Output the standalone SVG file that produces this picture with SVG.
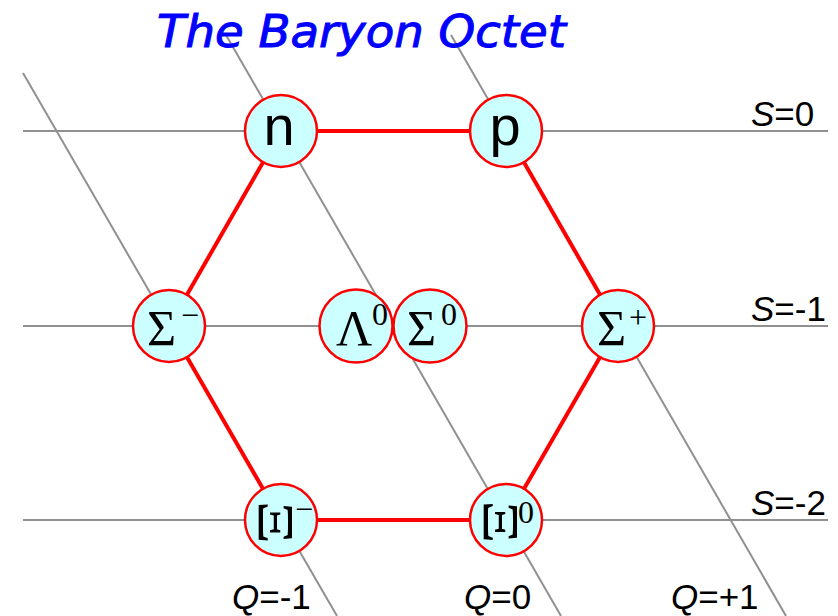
<svg xmlns="http://www.w3.org/2000/svg" width="838" height="616" viewBox="0 0 838 616">
<style>
.grid{stroke:#909090;stroke-width:2;fill:none}
.edge{stroke:#ff0000;stroke-width:4;fill:none}
.node circle{fill:#ccffff;stroke:#ff0000;stroke-width:2.5}
.lat{font-family:"Liberation Sans",Arial,sans-serif;font-size:56px;fill:#000;text-anchor:middle}
.gr{font-family:"Liberation Serif","Times New Roman",serif;font-size:50px;fill:#000}
.xi{font-family:"Liberation Serif","Times New Roman",serif;font-size:50px;fill:#000;text-anchor:middle;dominant-baseline:central}
.sup{font-family:"Liberation Serif","Times New Roman",serif;font-size:32px;fill:#000}
.lbl{font-family:"Liberation Sans",Arial,sans-serif;font-size:35px;fill:#000}
.title{font-family:"DejaVu Sans",sans-serif;font-style:italic;font-size:44px;fill:#0000ff;stroke:#0000ff;stroke-width:1}
</style>
<rect width="838" height="616" fill="#fff"/>
<g id="grid">
<line class="grid" x1="23" y1="131" x2="828" y2="131"/>
<line class="grid" x1="23" y1="326" x2="828" y2="326"/>
<line class="grid" x1="23" y1="520" x2="828" y2="520"/>
<line class="grid" x1="23" y1="73" x2="337" y2="616"/>
<line class="grid" x1="226" y1="35" x2="561" y2="616"/>
<line class="grid" x1="451" y1="35" x2="786" y2="616"/>
</g>
<text class="title" x="157" y="47" textLength="409" lengthAdjust="spacingAndGlyphs">The Baryon Octet</text>
<g id="connectors">
<line class="edge" x1="281" y1="131" x2="506" y2="131"/>
<line class="edge" x1="506" y1="131" x2="618" y2="326"/>
<line class="edge" x1="618" y1="326" x2="506" y2="520"/>
<line class="edge" x1="506" y1="520" x2="281" y2="520"/>
<line class="edge" x1="281" y1="520" x2="169" y2="326"/>
<line class="edge" x1="169" y1="326" x2="281" y2="131"/>
</g>
<g id="n" class="node"><circle cx="281" cy="131" r="36"/><text class="lat" x="279" y="145">n</text></g>
<g id="p" class="node"><circle cx="506" cy="131" r="36"/><text class="lat" x="505" y="145">p</text></g>
<g id="sigma-minus" class="node"><circle cx="169" cy="326" r="36"/><text class="gr" x="147" y="345">Σ</text><text class="sup" x="181" y="326">−</text></g>
<g id="lambda0" class="node"><circle cx="356" cy="326" r="36.5"/><text class="gr" x="336" y="345">Λ</text><text class="sup" x="372" y="325" font-size="34">0</text></g>
<g id="sigma0" class="node"><circle cx="430" cy="326" r="36.5"/><text class="gr" x="407" y="345">Σ</text><text class="sup" x="441" y="325" font-size="34">0</text></g>
<g id="sigma-plus" class="node"><circle cx="618" cy="326" r="36"/><text class="gr" x="597" y="345">Σ</text><text class="sup" x="629" y="328">+</text></g>
<g id="xi-minus" class="node"><circle cx="281" cy="520" r="36"/><text class="xi" transform="translate(276,522.5) rotate(90) scale(1.35,1)">Ξ</text><text class="sup" x="295" y="520">−</text></g>
<g id="xi0" class="node"><circle cx="506" cy="520" r="36"/><text class="xi" transform="translate(500.5,522) rotate(90) scale(1.35,1)">Ξ</text><text class="sup" x="518" y="523">0</text></g>
<g id="labels">
<text class="lbl" x="751" y="126"><tspan font-style="italic">S</tspan>=0</text>
<text class="lbl" x="751" y="321"><tspan font-style="italic">S</tspan>=-1</text>
<text class="lbl" x="751" y="515"><tspan font-style="italic">S</tspan>=-2</text>
<text class="lbl" x="232" y="609"><tspan font-style="italic">Q</tspan>=-1</text>
<text class="lbl" x="464" y="609"><tspan font-style="italic">Q</tspan>=0</text>
<text class="lbl" x="671" y="609"><tspan font-style="italic">Q</tspan>=+1</text>
</g>
</svg>
